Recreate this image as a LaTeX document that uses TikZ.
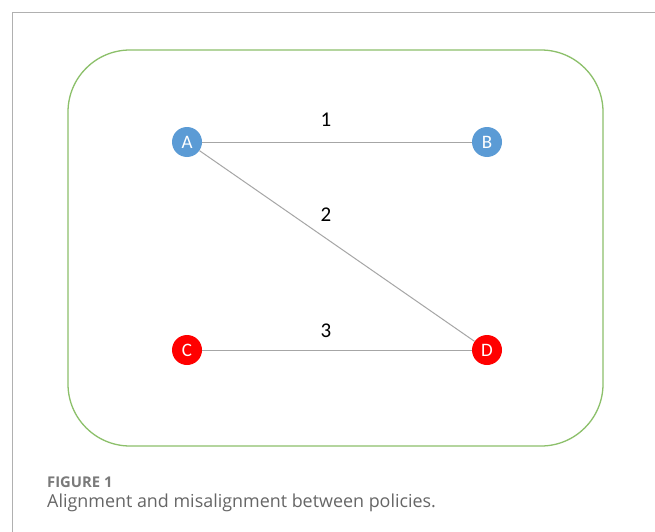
\documentclass[tikz,border=0pt]{standalone}
\usepackage{fontspec}
\setmainfont{Carlito}
\newfontfamily\capfont{Open Sans}
\definecolor{nodeblue}{HTML}{5B9BD5}
\definecolor{nodered}{HTML}{FF0000}
\definecolor{boxgreen}{HTML}{8CC06A}
\definecolor{edgegray}{HTML}{A6A6A6}
\definecolor{framegray}{HTML}{B0B0B0}
\definecolor{capgray}{HTML}{666666}
\definecolor{figgray}{HTML}{7A7A7A}
\tikzset{
  vert/.style={circle, minimum size=30pt, inner sep=0pt, text=white, font=\fontsize{19}{19}\selectfont},
  bluev/.style={vert, fill=nodeblue},
  redv/.style={vert, fill=nodered},
  edge/.style={draw=edgegray, line width=1pt},
  elabel/.style={font=\fontsize{21}{21}\selectfont, text=black},
}
\begin{document}
\begin{tikzpicture}[x=1pt,y=-1pt]
\useasboundingbox (0,0) rectangle (655,532);
\fill[white] (0,0) rectangle (655,532);
\coordinate (f1) at (12,532);
\coordinate (f2) at (12,13);
\coordinate (f3) at (655,13);
\draw[framegray, line width=1pt] (f1) -- (f2) -- (f3);
\draw[boxgreen, line width=1.3pt, rounded corners=62pt] (68,50) rectangle (603,446);
\node[bluev] (A) at (187,142) {A};
\node[bluev] (B) at (487,142) {B};
\node[redv] (C) at (187,350) {C};
\node[redv] (D) at (487,350) {D};
\draw[edge] (A) -- (B);
\draw[edge] (A) -- (D);
\draw[edge] (C) -- (D);
\node[elabel] (l1) at (326,120) {1};
\node[elabel] (l2) at (326,215) {2};
\node[elabel] (l3) at (326,331) {3};
\node[anchor=west, text=figgray, font=\capfont\bfseries\fontsize{14.8}{14.8}\selectfont, inner sep=0pt] (fig) at (47,482) {FIGURE 1};
\node[anchor=west, text=capgray, font=\capfont\fontsize{17.9}{17.9}\selectfont, inner sep=0pt] (cap) at (47,503) {Alignment and misalignment between policies.};
\end{tikzpicture}
\end{document}
